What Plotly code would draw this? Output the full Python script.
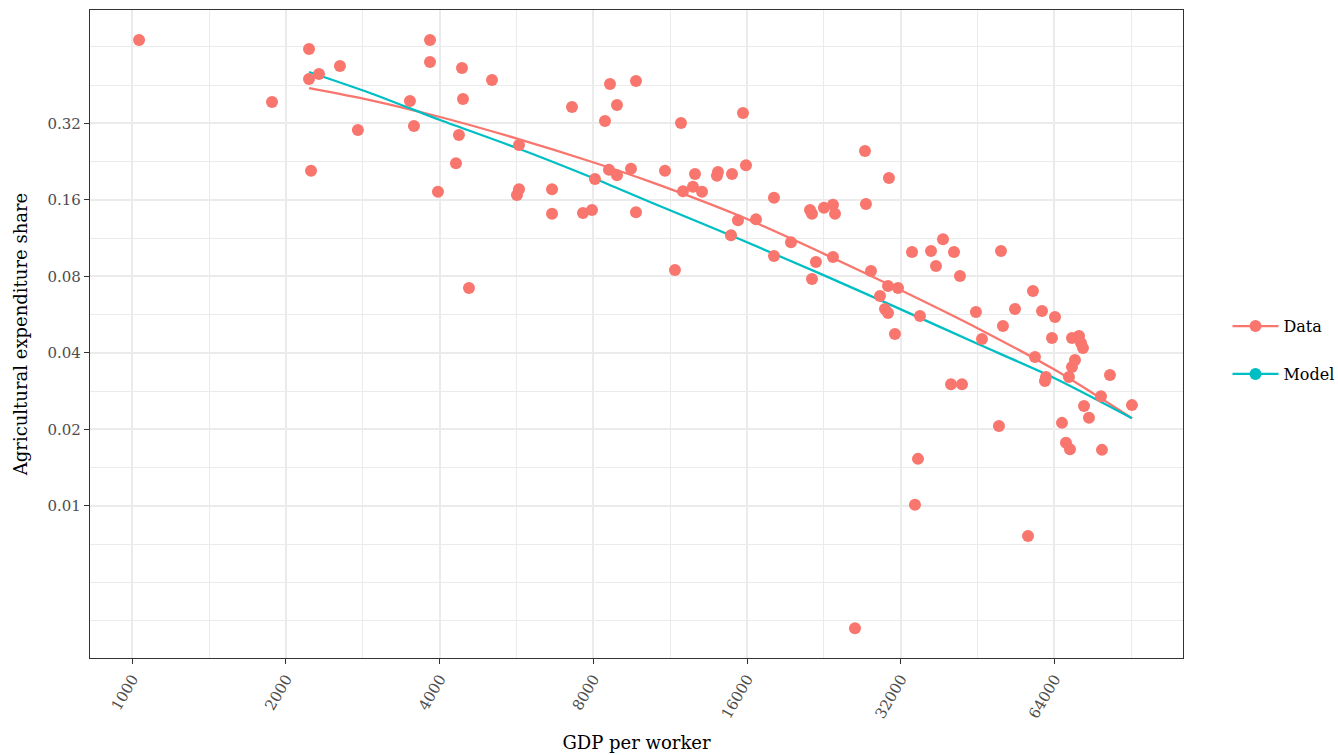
import plotly.graph_objects as go

# Observed country data: GDP per worker vs. agricultural expenditure share
gdp_per_worker = [
    1031, 1878, 2219, 2219, 2239, 2321, 2551, 2766, 3498, 3562,
    3829, 3829, 3969, 4305, 4363, 4423, 4443, 4565, 5064, 5668,
    5720, 5720, 6639, 6639, 7264, 7633, 7950, 8058, 8430, 8583,
    8622, 8898, 8898, 9479, 9694, 9694, 11050, 11558, 11876, 11984,
    12536, 12650, 13057, 14031, 13967, 14880, 14950, 15357, 15707, 15921,
    16656, 18064, 18064, 19505, 21250, 21440, 21440, 21825, 22630, 23570,
    23785, 23570, 26030, 27230, 27350, 27975, 29140, 29800, 30210, 30210,
    30340, 31170, 31600, 33660, 34115, 34580, 34895, 36675, 37505, 38710,
    40140, 40680, 41790, 42170, 44915, 46150, 49820, 50280, 50735, 53560,
    56800, 58080, 58610, 60500, 61310, 61600, 63280, 64150, 66200, 67400,
    68320, 68630, 69260, 69260, 70200, 71480, 72130, 72780, 73110, 74780,
    78930, 79280, 82200, 90760,
]
ag_share = [
    0.681, 0.388, 0.627, 0.478, 0.208, 0.500, 0.538, 0.301, 0.392, 0.312,
    0.681, 0.558, 0.172, 0.223, 0.288, 0.528, 0.399, 0.0719, 0.474, 0.167,
    0.176, 0.263, 0.176, 0.141, 0.371, 0.142, 0.146, 0.193, 0.327, 0.210,
    0.457, 0.378, 0.200, 0.212, 0.469, 0.143, 0.208, 0.0847, 0.321, 0.173,
    0.180, 0.202, 0.172, 0.206, 0.199, 0.116, 0.202, 0.133, 0.351, 0.219,
    0.134, 0.163, 0.0962, 0.109, 0.146, 0.141, 0.0781, 0.0911, 0.149, 0.153,
    0.141, 0.0953, 0.0033, 0.249, 0.154, 0.0839, 0.0669, 0.0595, 0.0574, 0.0733,
    0.195, 0.0474, 0.0719, 0.0997, 0.0101, 0.0153, 0.0558, 0.1006, 0.0878, 0.112,
    0.0301, 0.0997, 0.0802, 0.0301, 0.0579, 0.0453, 0.0206, 0.1006, 0.0510, 0.0595,
    0.0076, 0.0700, 0.0385, 0.0584, 0.0310, 0.0321, 0.0457, 0.0553, 0.0212, 0.0177,
    0.0321, 0.0167, 0.0352, 0.0457, 0.0375, 0.0466, 0.0437, 0.0418, 0.0247, 0.0222,
    0.0270, 0.0166, 0.0327, 0.0249,
]

# Smoothed fit through the data
data_fit_x = [2219, 2921, 4008, 5668, 7986, 10326, 15496, 22530, 32173, 45330,
              64210, 90760]
data_fit_y = [0.4406, 0.3952, 0.3388, 0.2786, 0.2249, 0.1887, 0.1381, 0.0985,
              0.0702, 0.0499, 0.0342, 0.0221]

# Model-implied expenditure share
model_x = [2219, 2921, 4008, 5668, 7986, 10326, 15496, 22530, 32173, 45330,
           64210, 90760]
model_y = [0.5094, 0.4211, 0.3297, 0.2558, 0.1949, 0.1568, 0.1119, 0.0810,
           0.0590, 0.0433, 0.0317, 0.0221]

x_breaks = [1000, 2000, 4000, 8000, 16000, 32000, 64000]
x_labels = ["1000", "2000", "4000", "8000", "16000", "32000", "64000"]
y_breaks = [0.01, 0.02, 0.04, 0.08, 0.16, 0.32]
y_labels = ["0.01", "0.02", "0.04", "0.08", "0.16", "0.32"]

SQ2 = 2 ** 0.5
x_minor = [b / SQ2 for b in x_breaks] + [x_breaks[-1] * SQ2]
y_minor = ([y_breaks[0] / 4, y_breaks[0] / (2 * SQ2), y_breaks[0] / 2, y_breaks[0] / SQ2]
           + [b * SQ2 for b in y_breaks] + [y_breaks[-1] * 2])

RED = "#F8766D"
CYAN = "#00BFC4"
FONT = "DejaVu Serif"
GRID = "#EBEBEB"
AX = "#333333"

fig = go.Figure()

fig.add_trace(go.Scatter(x=data_fit_x, y=data_fit_y, mode="lines",
                         line=dict(color=RED, width=2.3, shape="spline", smoothing=0.8),
                         showlegend=False, hoverinfo="skip"))
fig.add_trace(go.Scatter(x=model_x, y=model_y, mode="lines",
                         line=dict(color=CYAN, width=2.3, shape="spline", smoothing=0.8),
                         showlegend=False, hoverinfo="skip"))
fig.add_trace(go.Scatter(x=gdp_per_worker, y=ag_share, mode="markers",
                         marker=dict(color=RED, size=12, line=dict(width=0)),
                         showlegend=False))

# Legend keys (line with point, as in the combined key)
fig.add_trace(go.Scatter(x=[None], y=[None], mode="lines+markers", name="Data",
                         line=dict(color=RED, width=2.3),
                         marker=dict(color=RED, size=12), legendgroup="a"))
fig.add_trace(go.Scatter(x=[None], y=[None], mode="lines+markers", name="Model",
                         line=dict(color=CYAN, width=2.3),
                         marker=dict(color=CYAN, size=12), legendgroup="b"))

axis_common = dict(
    showline=True, mirror=True, linecolor=AX, linewidth=1.3,
    ticks="outside", ticklen=5, tickwidth=1.3, tickcolor=AX,
    showgrid=True, gridcolor=GRID, gridwidth=1.8,
    tickfont=dict(family=FONT, size=15, color="#4D4D4D"),
    zeroline=False,
)

fig.update_xaxes(
    type="log", range=[2.9172, 5.0579],
    tickmode="array", tickvals=x_breaks, ticktext=x_labels, tickangle=-60,
    minor=dict(tickmode="array", tickvals=x_minor, showgrid=True,
               gridcolor=GRID, gridwidth=0.9, ticklen=0),
    title=dict(text="GDP per worker", font=dict(family=FONT, size=18, color="black")),
    **axis_common,
)
fig.update_yaxes(
    type="log", range=[-2.5989, -0.0490],
    tickmode="array", tickvals=y_breaks, ticktext=y_labels,
    minor=dict(tickmode="array", tickvals=y_minor, showgrid=True,
               gridcolor=GRID, gridwidth=0.9, ticklen=0),
    title=dict(text="Agricultural expenditure share",
               font=dict(family=FONT, size=18, color="black")),
    **axis_common,
)

fig.update_layout(
    width=1338, height=755,
    margin=dict(l=90, r=155, t=10, b=97, autoexpand=False),
    plot_bgcolor="white", paper_bgcolor="white",
    font=dict(family=FONT),
    legend=dict(x=1.0407, y=0.475, xanchor="left", yanchor="middle",
                font=dict(family=FONT, size=16, color="black"),
                itemwidth=46, tracegroupgap=24, bgcolor="rgba(0,0,0,0)"),
)

fig.write_html("out.html")
